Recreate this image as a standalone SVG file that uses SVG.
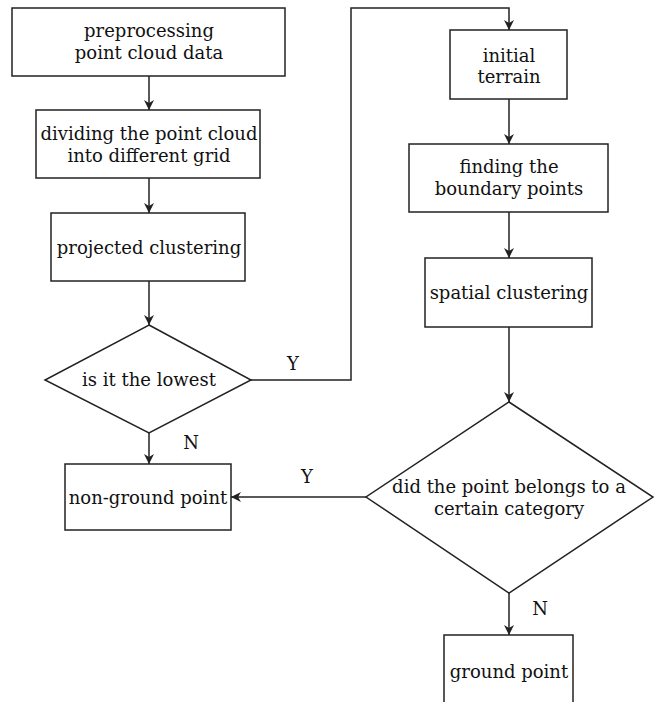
<svg xmlns="http://www.w3.org/2000/svg" width="661" height="702" viewBox="0 0 661 702">
<defs>
<marker id="arr" viewBox="0 0 10 10" refX="10" refY="5" markerWidth="10" markerHeight="10" markerUnits="userSpaceOnUse" orient="auto">
<path d="M0,0 L10,5 L0,10 L3,5 Z" fill="#222"/>
</marker>
</defs>
<style>
.box{fill:#fff;stroke:#222;stroke-width:1.5}
.t{font-family:"DejaVu Serif","Liberation Serif",serif;font-size:18px;fill:#111;text-anchor:middle}
.c{fill:none;stroke:#222;stroke-width:1.5}
</style>
<rect width="661" height="702" fill="#fff"/>
<g id="n1"><rect class="box" x="12" y="8" width="273" height="68"/><text class="t" x="149" y="37">preprocessing</text><text class="t" x="149" y="59">point cloud data</text></g>
<g id="n2"><rect class="box" x="36" y="110" width="224" height="68"/><text class="t" x="149" y="140">dividing the point cloud</text><text class="t" x="149" y="162">into different grid</text></g>
<g id="n3"><rect class="box" x="51" y="213" width="194" height="68"/><text class="t" x="149" y="254">projected clustering</text></g>
<g id="d1"><polygon class="box" points="149,325 251,380 149,433 45,380"/><text class="t" x="149" y="386">is it the lowest</text></g>
<g id="n4"><rect class="box" x="65" y="464" width="166" height="66"/><text class="t" x="148" y="504">non-ground point</text></g>
<g id="n5"><rect class="box" x="450" y="30" width="117" height="69"/><text class="t" x="509" y="62">initial</text><text class="t" x="509" y="83">terrain</text></g>
<g id="n6"><rect class="box" x="409" y="144" width="199" height="68"/><text class="t" x="509" y="173">finding the</text><text class="t" x="509" y="195">boundary points</text></g>
<g id="n7"><rect class="box" x="425" y="258" width="167" height="69"/><text class="t" x="509" y="299">spatial clustering</text></g>
<g id="d2"><polygon class="box" points="509,402 653,497 509,593 366,497"/><text class="t" x="509" y="493">did the point belongs to a</text><text class="t" x="509" y="515">certain category</text></g>
<g id="n8"><rect class="box" x="444" y="635" width="129" height="70"/><text class="t" x="509" y="678">ground point</text></g>
<g id="connectors">
<line class="c" x1="149" y1="76" x2="149" y2="110" marker-end="url(#arr)"/>
<line class="c" x1="149" y1="178" x2="149" y2="213" marker-end="url(#arr)"/>
<line class="c" x1="149" y1="281" x2="149" y2="325" marker-end="url(#arr)"/>
<line class="c" x1="149" y1="433" x2="149" y2="464" marker-end="url(#arr)"/>
<polyline class="c" points="251,380 351,380 351,8 509,8 509,30" marker-end="url(#arr)"/>
<line class="c" x1="509" y1="99" x2="509" y2="144" marker-end="url(#arr)"/>
<line class="c" x1="509" y1="212" x2="509" y2="258" marker-end="url(#arr)"/>
<line class="c" x1="509" y1="327" x2="509" y2="402" marker-end="url(#arr)"/>
<line class="c" x1="366" y1="497" x2="231" y2="497" marker-end="url(#arr)"/>
<line class="c" x1="509" y1="593" x2="509" y2="635" marker-end="url(#arr)"/>
<text class="t" x="293" y="370">Y</text>
<text class="t" x="191" y="449">N</text>
<text class="t" x="307" y="483">Y</text>
<text class="t" x="540" y="615">N</text>
</g>
</svg>
